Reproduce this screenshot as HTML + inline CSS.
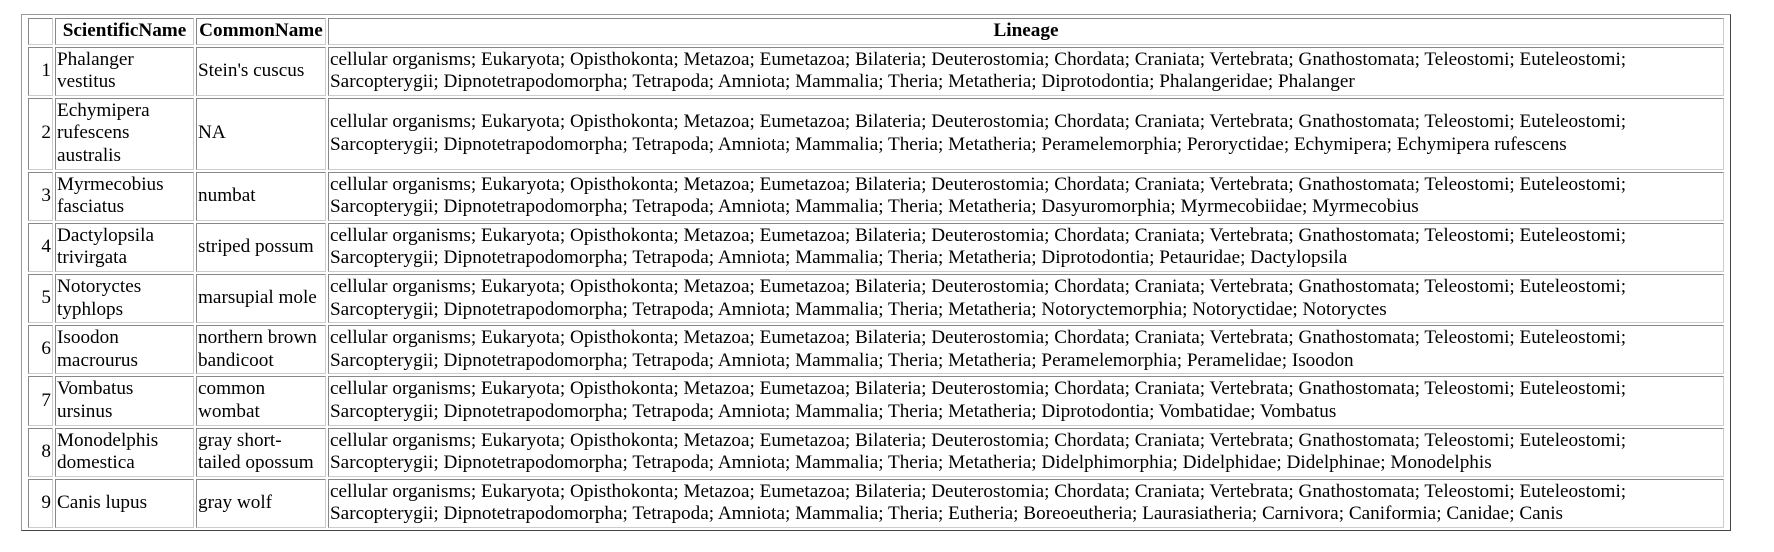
<!DOCTYPE html>
<html><head><meta charset="utf-8"><style>
body{margin:0;background:#fff;width:1774px;height:552px;overflow:hidden}
table{position:absolute;left:21px;top:14px;width:1710px;table-layout:fixed;border-collapse:separate;border-spacing:2px;border:1px solid;border-color:#999 #444 #444 #999;padding:1px 4px 0 4px;font-family:"Liberation Serif",serif;font-size:19.2px;line-height:22.6px;color:#000}
td,th{border:1px solid;border-color:#888 #ccc #ccc #888;padding:1px 1px;vertical-align:middle;text-align:left;overflow:hidden}
th{font-weight:bold;text-align:center}
td.i{text-align:right}
</style></head><body>
<table>
<colgroup><col style="width:25px"><col style="width:139px"><col style="width:130px"><col></colgroup>
<tr><th></th><th>ScientificName</th><th>CommonName</th><th>Lineage</th></tr>
<tr><td class="i">1</td><td>Phalanger vestitus</td><td>Stein's cuscus</td><td>cellular organisms; Eukaryota; Opisthokonta; Metazoa; Eumetazoa; Bilateria; Deuterostomia; Chordata; Craniata; Vertebrata; Gnathostomata; Teleostomi; Euteleostomi; Sarcopterygii; Dipnotetrapodomorpha; Tetrapoda; Amniota; Mammalia; Theria; Metatheria; Diprotodontia; Phalangeridae; Phalanger</td></tr>
<tr><td class="i">2</td><td>Echymipera rufescens australis</td><td>NA</td><td>cellular organisms; Eukaryota; Opisthokonta; Metazoa; Eumetazoa; Bilateria; Deuterostomia; Chordata; Craniata; Vertebrata; Gnathostomata; Teleostomi; Euteleostomi; Sarcopterygii; Dipnotetrapodomorpha; Tetrapoda; Amniota; Mammalia; Theria; Metatheria; Peramelemorphia; Peroryctidae; Echymipera; Echymipera rufescens</td></tr>
<tr><td class="i">3</td><td>Myrmecobius fasciatus</td><td>numbat</td><td>cellular organisms; Eukaryota; Opisthokonta; Metazoa; Eumetazoa; Bilateria; Deuterostomia; Chordata; Craniata; Vertebrata; Gnathostomata; Teleostomi; Euteleostomi; Sarcopterygii; Dipnotetrapodomorpha; Tetrapoda; Amniota; Mammalia; Theria; Metatheria; Dasyuromorphia; Myrmecobiidae; Myrmecobius</td></tr>
<tr><td class="i">4</td><td>Dactylopsila trivirgata</td><td>striped possum</td><td>cellular organisms; Eukaryota; Opisthokonta; Metazoa; Eumetazoa; Bilateria; Deuterostomia; Chordata; Craniata; Vertebrata; Gnathostomata; Teleostomi; Euteleostomi; Sarcopterygii; Dipnotetrapodomorpha; Tetrapoda; Amniota; Mammalia; Theria; Metatheria; Diprotodontia; Petauridae; Dactylopsila</td></tr>
<tr><td class="i">5</td><td>Notoryctes typhlops</td><td>marsupial mole</td><td>cellular organisms; Eukaryota; Opisthokonta; Metazoa; Eumetazoa; Bilateria; Deuterostomia; Chordata; Craniata; Vertebrata; Gnathostomata; Teleostomi; Euteleostomi; Sarcopterygii; Dipnotetrapodomorpha; Tetrapoda; Amniota; Mammalia; Theria; Metatheria; Notoryctemorphia; Notoryctidae; Notoryctes</td></tr>
<tr><td class="i">6</td><td>Isoodon macrourus</td><td>northern brown bandicoot</td><td>cellular organisms; Eukaryota; Opisthokonta; Metazoa; Eumetazoa; Bilateria; Deuterostomia; Chordata; Craniata; Vertebrata; Gnathostomata; Teleostomi; Euteleostomi; Sarcopterygii; Dipnotetrapodomorpha; Tetrapoda; Amniota; Mammalia; Theria; Metatheria; Peramelemorphia; Peramelidae; Isoodon</td></tr>
<tr><td class="i">7</td><td>Vombatus<br>ursinus</td><td>common<br>wombat</td><td>cellular organisms; Eukaryota; Opisthokonta; Metazoa; Eumetazoa; Bilateria; Deuterostomia; Chordata; Craniata; Vertebrata; Gnathostomata; Teleostomi; Euteleostomi; Sarcopterygii; Dipnotetrapodomorpha; Tetrapoda; Amniota; Mammalia; Theria; Metatheria; Diprotodontia; Vombatidae; Vombatus</td></tr>
<tr><td class="i">8</td><td>Monodelphis domestica</td><td>gray short-<br>tailed opossum</td><td>cellular organisms; Eukaryota; Opisthokonta; Metazoa; Eumetazoa; Bilateria; Deuterostomia; Chordata; Craniata; Vertebrata; Gnathostomata; Teleostomi; Euteleostomi; Sarcopterygii; Dipnotetrapodomorpha; Tetrapoda; Amniota; Mammalia; Theria; Metatheria; Didelphimorphia; Didelphidae; Didelphinae; Monodelphis</td></tr>
<tr><td class="i">9</td><td>Canis lupus</td><td>gray wolf</td><td>cellular organisms; Eukaryota; Opisthokonta; Metazoa; Eumetazoa; Bilateria; Deuterostomia; Chordata; Craniata; Vertebrata; Gnathostomata; Teleostomi; Euteleostomi; Sarcopterygii; Dipnotetrapodomorpha; Tetrapoda; Amniota; Mammalia; Theria; Eutheria; Boreoeutheria; Laurasiatheria; Carnivora; Caniformia; Canidae; Canis</td></tr>
</table>
</body></html>
